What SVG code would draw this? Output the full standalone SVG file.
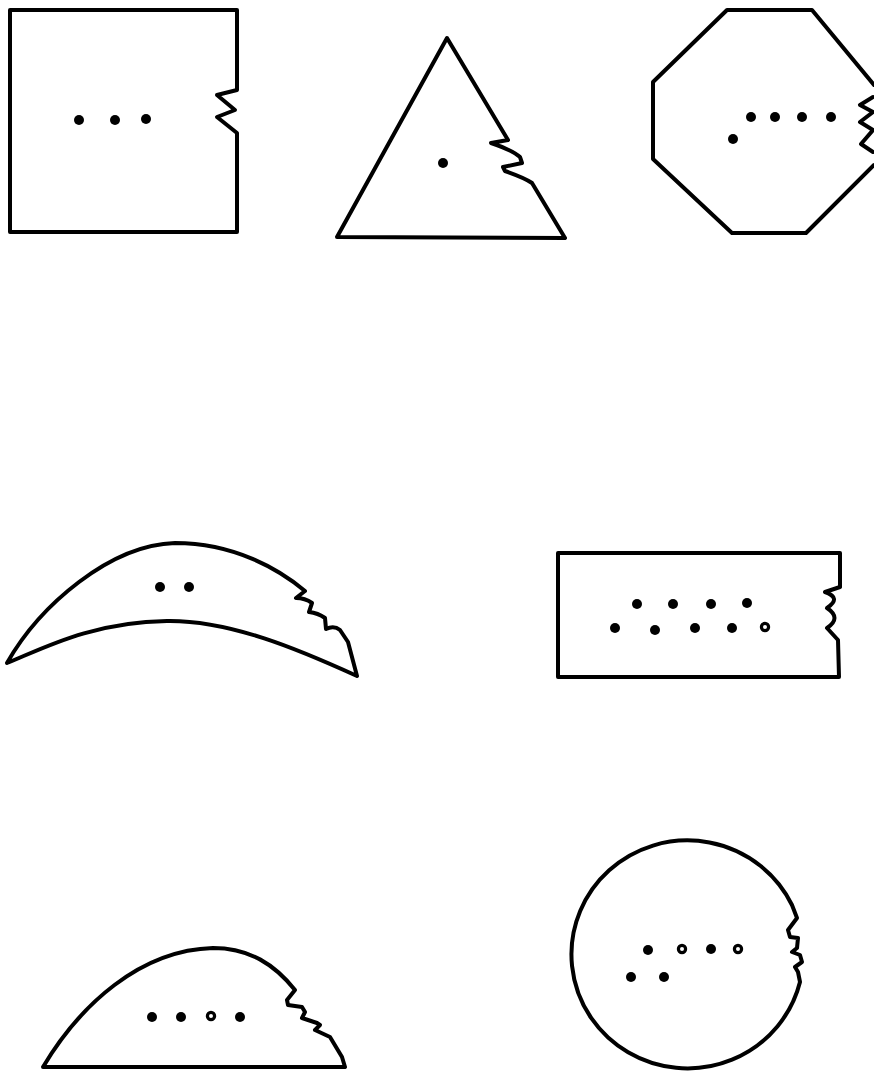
<svg xmlns="http://www.w3.org/2000/svg" width="874" height="1075" viewBox="0 0 874 1075">
<style>
.o{fill:none;stroke:#000;stroke-width:4;stroke-linejoin:round;stroke-linecap:round}
.d{fill:#000}
.h{fill:#fff;stroke:#000;stroke-width:3.2}
</style>
<rect width="874" height="1075" fill="#fff"/>
<g id="square">
<path class="o" d="M10 10 L237 10 L237 90 L217 95 L235 110 L217 117 L237 133 L237 232 L10 232 Z"/>
<circle class="d" cx="79" cy="120" r="5"/><circle class="d" cx="115" cy="120" r="5"/><circle class="d" cx="146" cy="119" r="5"/>
</g>
<g id="triangle">
<path class="o" d="M447 38 L508 140 L491 143 Q512 150 520 157 L522 163 L503 167 L505 171 Q525 178 532 183 L565 238 L337 237 Z"/>
<circle class="d" cx="443" cy="163" r="5"/>
</g>
<g id="octagon">
<path class="o" d="M874 85 L812 10 L727 10 L653 82 L653 159 L732 233 L806 233 L874 165"/>
<path class="o" d="M873 97 L860 105 L873 112 L860 122 L873 130 L861 144 L873 152"/>
<circle class="d" cx="751" cy="117" r="5"/><circle class="d" cx="775" cy="117" r="5"/><circle class="d" cx="802" cy="117" r="5"/><circle class="d" cx="831" cy="117" r="5"/><circle class="d" cx="733" cy="139" r="5"/>
</g>
<g id="crescent">
<path class="o" d="M7 663 C40 605 110 545 175 543 C235 543 280 570 305 591 L296 598 Q305 598 312 603 L309 612 Q318 613 325 618 L326 629 Q334 625 340 630 L348 642 L357 676 C300 650 230 620 167 621 C90 622 40 650 7 663 Z"/>
<circle class="d" cx="160" cy="587" r="5"/><circle class="d" cx="189" cy="587" r="5"/>
</g>
<g id="rectangle">
<path class="o" d="M840 587 L840 553 L558 553 L558 677 L839 677 L838 640 L827 628 Q842 618 827 608 Q842 598 825 592 L840 587"/>
<circle class="d" cx="637" cy="604" r="5"/><circle class="d" cx="673" cy="604" r="5"/><circle class="d" cx="711" cy="604" r="5"/><circle class="d" cx="747" cy="603" r="5"/>
<circle class="d" cx="615" cy="628" r="5"/><circle class="d" cx="655" cy="630" r="5"/><circle class="d" cx="695" cy="628" r="5"/><circle class="d" cx="732" cy="628" r="5"/><circle class="h" cx="765" cy="627" r="3.6"/>
</g>
<g id="dome">
<path class="o" d="M43 1067 C80 1005 140 950 213 948 C250 948 275 965 295 990 L287 1000 L288 1005 L302 1007 L305 1012 L302 1018 L317 1023 L320 1025 L315 1030 L330 1037 L342 1057 L345 1067 Z"/>
<circle class="d" cx="152" cy="1017" r="5"/><circle class="d" cx="181" cy="1017" r="5"/><circle class="h" cx="211" cy="1016" r="3.6"/><circle class="d" cx="240" cy="1017" r="5"/>
</g>
<g id="circle">
<path class="o" d="M800 982 A116 114 0 1 1 792 905 L797 918 L788 930 L790 937 L798 938 L797 948 L792 952 L800 955 L802 962 L795 967 L798 972 Z"/>
<circle class="d" cx="648" cy="950" r="5"/><circle class="h" cx="682" cy="949" r="3.6"/><circle class="d" cx="711" cy="949" r="5"/><circle class="h" cx="738" cy="949" r="3.6"/>
<circle class="d" cx="631" cy="977" r="5"/><circle class="d" cx="664" cy="977" r="5"/>
</g>
</svg>
